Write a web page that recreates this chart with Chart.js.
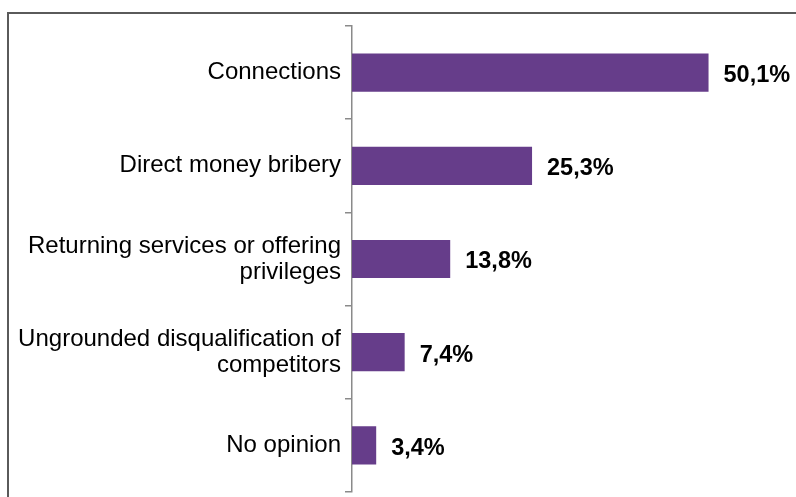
<!DOCTYPE html>
<html>
<head>
<meta charset="utf-8">
<title>Forms of corruption</title>
<script src="https://cdn.jsdelivr.net/npm/chart.js@4/dist/chart.umd.min.js"></script>
<style>
    html, body { margin: 0; padding: 0; background: #fff; overflow: hidden; }
    .wrap { position: relative; width: 796px; height: 497px; }
    .frame {
        position: absolute; left: 7px; top: 12px; width: 900px; height: 600px;
        border-top: 2px solid #5a5a5a; border-left: 2px solid #5a5a5a;
        box-sizing: border-box; pointer-events: none;
    }
    canvas { position: absolute; left: 0; top: 0; }
</style>
</head>
<body>
<div class="wrap">
    <div class="frame"></div>
    <canvas id="chart" width="796" height="497"></canvas>
</div>
<script>
const categories = [
    'Connections',
    'Direct money bribery',
    ['Returning services or offering', 'privileges'],
    ['Ungrounded disqualification of', 'competitors'],
    'No opinion'
];
const shares = [50.1, 25.3, 13.8, 7.4, 3.4];

const barColor = '#663d8a';
const axisColor = '#8a8a8a';
const fontFamily = "'Liberation Sans', Arial, sans-serif";

// percent labels to the right of each bar, decimal comma
const valueLabels = {
    id: 'valueLabels',
    afterDatasetsDraw(chart) {
        const { ctx } = chart;
        const meta = chart.getDatasetMeta(0);
        ctx.save();
        ctx.font = 'bold 23.5px ' + fontFamily;
        ctx.fillStyle = '#000';
        ctx.textAlign = 'left';
        ctx.textBaseline = 'middle';
        meta.data.forEach((bar, i) => {
            const text = shares[i].toFixed(1).replace('.', ',') + '%';
            ctx.fillText(text, bar.x + 15, bar.y + 3);
        });
        ctx.restore();
    }
};

new Chart(document.getElementById('chart').getContext('2d'), {
    type: 'bar',
    data: {
        labels: categories,
        datasets: [{
            data: shares,
            backgroundColor: barColor,
            borderWidth: 0,
            categoryPercentage: 1,
            barPercentage: 0.41
        }]
    },
    options: {
        indexAxis: 'y',
        responsive: false,
        animation: false,
        layout: {
            padding: { left: 0, right: 17, top: 26, bottom: 5 }
        },
        plugins: {
            legend: { display: false },
            tooltip: { enabled: false }
        },
        scales: {
            x: {
                display: false,
                min: 0,
                max: 60
            },
            y: {
                afterFit(scale) {
                    scale.width = 352;
                    // labels sit inside their bands, no extra end padding
                    scale.paddingTop = 0;
                    scale.paddingBottom = 0;
                },
                grid: {
                    drawOnChartArea: false,
                    drawTicks: true,
                    tickLength: 7,
                    color: axisColor,
                    lineWidth: 1.5
                },
                border: { display: true, color: axisColor, width: 1.5 },
                ticks: {
                    padding: 4,
                    color: '#000',
                    font: { family: fontFamily, size: 24, lineHeight: 1.08 }
                }
            }
        }
    },
    plugins: [valueLabels]
});
</script>
</body>
</html>
